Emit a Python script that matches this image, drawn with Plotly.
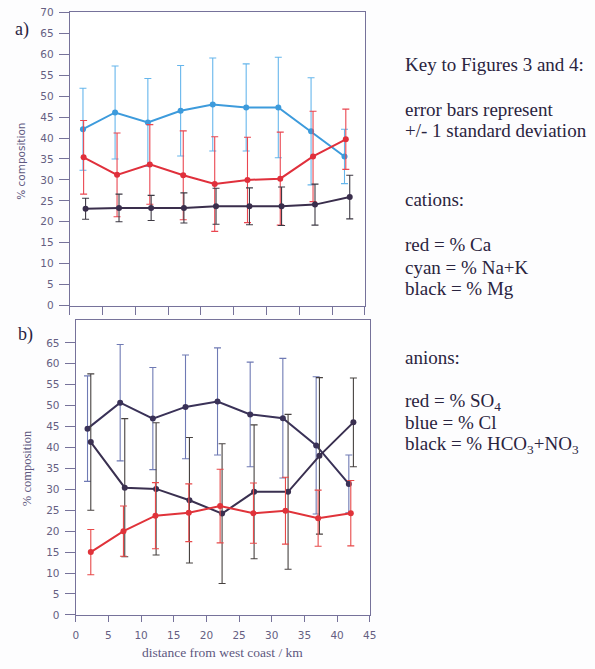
import plotly.graph_objects as go

# ---------- data: a) cations ----------
x_na_k = [2.0, 6.9, 11.9, 16.9, 21.8, 26.9, 31.8, 36.8, 41.9]
na_k = [42.1, 46.1, 43.7, 46.5, 48.0, 47.3, 47.3, 41.6, 35.6]
na_k_sd = [9.8, 11.1, 10.5, 10.8, 11.1, 10.4, 12.0, 12.8, 6.5]

x_ca = [2.1, 7.2, 12.2, 17.3, 22.1, 27.1, 32.1, 37.1, 42.1]
ca = [35.4, 31.2, 33.7, 31.1, 29.0, 30.0, 30.3, 35.6, 39.7]
ca_sd = [8.8, 10.0, 9.5, 10.6, 11.3, 10.2, 11.1, 10.8, 7.2]

x_mg = [2.4, 7.5, 12.4, 17.4, 22.3, 27.4, 32.3, 37.4, 42.7]
mg = [23.1, 23.3, 23.3, 23.3, 23.7, 23.7, 23.7, 24.1, 25.9]
mg_sd = [2.5, 3.3, 3.0, 3.6, 4.3, 4.4, 4.6, 4.9, 5.2]

# ---------- data: b) anions ----------
x_cl = [1.8, 6.8, 11.8, 16.8, 21.7, 26.7, 31.7, 36.8, 41.8]
cl = [44.5, 50.7, 46.9, 49.7, 51.0, 47.9, 47.0, 40.5, 31.3]
cl_sd = [12.6, 13.9, 12.2, 12.4, 12.8, 12.5, 14.3, 16.4, 6.9]

x_hco3 = [2.3, 7.5, 12.3, 17.4, 22.4, 27.3, 32.5, 37.3, 42.5]
hco3 = [41.3, 30.4, 30.1, 27.4, 24.2, 29.4, 29.4, 38.0, 46.0]
hco3_sd = [16.3, 16.5, 15.8, 15.0, 16.7, 16.0, 18.5, 18.7, 10.6]

x_so4 = [2.3, 7.3, 12.2, 17.3, 22.1, 27.2, 32.1, 37.1, 42.1]
so4 = [15.0, 20.0, 23.7, 24.4, 26.0, 24.3, 24.9, 23.1, 24.3]
so4_sd = [5.4, 6.0, 7.9, 6.9, 8.8, 7.2, 8.0, 6.7, 7.8]

x_ticks = [0, 5, 10, 15, 20, 25, 30, 35, 40, 45]
y_ticks = [0, 5, 10, 15, 20, 25, 30, 35, 40, 45, 50, 55, 60, 65, 70]
y_ticks_b = [0, 5, 10, 15, 20, 25, 30, 35, 40, 45, 50, 55, 60, 65]

key_lines = [
    "Key to Figures 3 and 4:",
    "error bars represent",
    "+/- 1 standard deviation",
    "cations:",
    "red = % Ca",
    "cyan = % Na+K",
    "black = % Mg",
    "anions:",
    "red = % SO<sub>4</sub>",
    "blue = % Cl",
    "black = % HCO<sub>3</sub>+NO<sub>3</sub>",
]
key_y_px = [60, 105, 127, 197, 243, 266, 288, 358, 403, 424, 447]

W, H = 595, 669


def series(x, y, sd, line_col, err_col, xa, ya):
    return go.Scatter(
        x=x, y=y, xaxis=xa, yaxis=ya, mode="lines+markers",
        line=dict(color=line_col, width=2),
        marker=dict(color=line_col, size=6),
        error_y=dict(type="data", array=sd, visible=True,
                     color=err_col, thickness=1.1, width=3.5),
        showlegend=False, hoverinfo="skip",
    )


fig = go.Figure()
fig.add_trace(series(x_na_k, na_k, na_k_sd, "#3d9bdc", "#66b6ec", "x", "y"))
fig.add_trace(series(x_ca, ca, ca_sd, "#e0303c", "#ea4650", "x", "y"))
fig.add_trace(series(x_mg, mg, mg_sd, "#3a2e4c", "#3e3a44", "x", "y"))

fig.add_trace(series(x_cl, cl, cl_sd, "#3a3258", "#6f7ab4", "x2", "y2"))
fig.add_trace(series(x_hco3, hco3, hco3_sd, "#3a3050", "#474240", "x2", "y2"))
fig.add_trace(series(x_so4, so4, so4_sd, "#e0333a", "#e84a4a", "x2", "y2"))

axis_col = "#76729a"
tick_font = dict(family="DejaVu Sans", size=10.5, color="#655f82")
common = dict(showline=True, mirror=True, linecolor=axis_col, linewidth=1.3,
              ticks="outside", tickcolor=axis_col, tickwidth=1.2,
              showgrid=False, zeroline=False, tickfont=tick_font)

fig.update_layout(
    autosize=True,
    margin=dict(l=0, r=0, t=0, b=0),
    paper_bgcolor="#fdfdfe", plot_bgcolor="#ffffff",
    xaxis=dict(domain=[68 / W, 368 / W], range=[0, 45], tickvals=x_ticks,
               showticklabels=False, ticklen=8, anchor="y", **common),
    yaxis=dict(domain=[1 - 305 / H, 1 - 6.5 / H], range=[0, 70], tickvals=y_ticks,
               ticklen=10, anchor="x", ticklabelstandoff=3, **common),
    xaxis2=dict(domain=[74 / W, 373 / W], range=[0, 45], tickvals=x_ticks,
                ticklen=6, anchor="y2", ticklabelstandoff=4, **common),
    yaxis2=dict(domain=[1 - 620 / H, 1 - 320 / H], range=[0, 70.4], tickvals=y_ticks_b,
                ticklen=10, anchor="x2", ticklabelstandoff=3, **common),
)

ann = []
serif = "Liberation Serif"
for txt, ypx in zip(key_lines, key_y_px):
    ann.append(dict(text=txt, x=407 / W, y=1 - ypx / H, xref="paper", yref="paper",
                    xanchor="left", yanchor="middle", showarrow=False,
                    font=dict(family=serif, size=19, color="#2a2440")))
ann.append(dict(text="a)", x=10 / W, y=1 - 24 / H, xref="paper", yref="paper",
                xanchor="left", yanchor="middle", showarrow=False,
                font=dict(family=serif, size=18, color="#2a2440")))
ann.append(dict(text="b)", x=13 / W, y=1 - 335 / H, xref="paper", yref="paper",
                xanchor="left", yanchor="middle", showarrow=False,
                font=dict(family=serif, size=18, color="#2a2440")))
ann.append(dict(text="% composition", x=18 / W, y=1 - 158 / H, xref="paper", yref="paper",
                xanchor="center", yanchor="middle", textangle=-90, showarrow=False,
                font=dict(family="DejaVu Sans", size=10.5, color="#5e5880")))
ann.append(dict(text="% composition", x=24 / W, y=1 - 471 / H, xref="paper", yref="paper",
                xanchor="center", yanchor="middle", textangle=-90, showarrow=False,
                font=dict(family=serif, size=12.5, color="#5e5880")))
ann.append(dict(text="distance from west coast / km", x=223 / W, y=1 - 658 / H,
                xref="paper", yref="paper", xanchor="center", yanchor="middle",
                showarrow=False, font=dict(family=serif, size=13.5, color="#5e5880")))
fig.update_layout(annotations=ann)

fig.write_html(
    "out.html",
    default_width="100vw",
    default_height="100vh",
    config={"displayModeBar": False, "responsive": True},
    post_script="document.body.style.margin='0';"
                "document.documentElement.style.overflow='hidden';",
)
